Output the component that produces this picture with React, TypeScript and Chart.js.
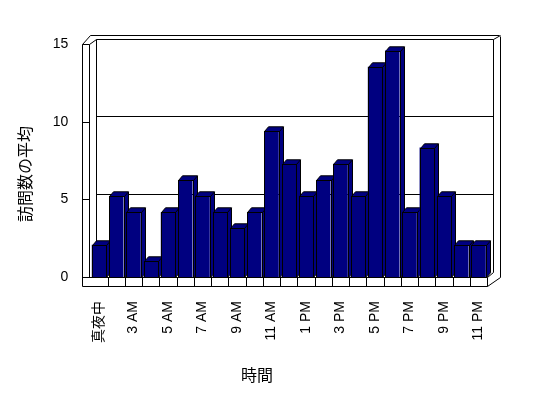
import React, { useEffect, useRef } from "react";
import { Chart, registerables } from "chart.js";

Chart.register(...registerables);

const categories = [
  "真夜中", "1 AM", "3 AM", "4 AM", "5 AM", "6 AM", "7 AM", "8 AM", "9 AM", "10 AM", "11 AM", "正午",
  "1 PM", "2 PM", "3 PM", "4 PM", "5 PM", "6 PM", "7 PM", "8 PM", "9 PM", "10 PM", "11 PM",
];
const visitAverages = [
  2.08, 5.21, 4.17, 1.04, 4.17, 6.25, 5.21, 4.17, 3.13, 4.17, 9.38, 7.29,
  5.21, 6.25, 7.29, 5.21, 13.54, 14.58, 4.17, 8.33, 5.21, 2.08, 2.08,
];
const yMin = 0;
const yMax = 15;
const yStep = 5;
const yTitle = "訪問数の平均";
const xTitle = "時間";

const FONT = '"Liberation Sans", "Noto Sans CJK JP", sans-serif';
const NAVY = "#000080";

const p = (v: number) => Math.round(v) + 0.5;

const threeD = {
  id: "threeD",
  beforeDatasetsDraw(chart: any) {
    const { ctx, chartArea } = chart;
    const ys = chart.scales.y;
    const L = chartArea.left;
    const R = chartArea.right;
    const B = chartArea.bottom;
    const T = ys.getPixelForValue(yMax);
    const bdx = 5.7;
    const bdy = -5.2;
    const n = categories.length;
    const cell = (R - L) / n;
    ctx.save();
    ctx.strokeStyle = "#000";
    ctx.lineWidth = 1;
    const line = (x1: number, y1: number, x2: number, y2: number) => {
      ctx.beginPath();
      ctx.moveTo(p(x1), p(y1));
      ctx.lineTo(p(x2), p(y2));
      ctx.stroke();
    };
    // back wall inner
    line(L + bdx, T + bdy, R + bdx, T + bdy);
    line(L + bdx, T + bdy, L + bdx, B + bdy);
    line(R + bdx, T + bdy, R + bdx, B + bdy);
    // gridlines
    for (let v = yMin + yStep; v < yMax; v += yStep) {
      const y = ys.getPixelForValue(v) + bdy;
      line(L + bdx, y, R + bdx, y);
    }
    // outer frame
    const oL = L - 8.7;
    const oR = R + 12.8;
    const oT = T - 9;
    line(oL + 8.3, oT, oR - 1, oT);
    line(oR, oT + 0.5, oR, B);
    line(R + bdx, T + bdy, oR, oT);
    // left wall
    line(oL, T, oL, B + 9);
    line(L - 1, T, L - 1, B);
    line(oL, T, L - 1, T);
    line(oL, T, oL + 8.3, oT);
    line(L - 1, T, L + bdx, T + bdy);
    for (let v = yMin + yStep; v < yMax; v += yStep) {
      const y = ys.getPixelForValue(v);
      line(oL, y, L - 1, y);
    }
    // floor slab
    line(oL, B, R, B);
    line(oL, B + 9, R, B + 9);
    line(R, B, R, B + 9);
    line(R, B + 9, oR, B);
    line(R, B, R + bdx, B + bdy);
    for (let i = 1; i < n; i++) {
      const x = L + i * cell;
      line(x, B, x, B + 9);
    }
    // bar extrusions
    const dx = 4;
    const dy = -4.7;
    const meta = chart.getDatasetMeta(0);
    ctx.fillStyle = NAVY;
    meta.data.forEach((el: any) => {
      const { x, y, base, width } = el.getProps(["x", "y", "base", "width"], true);
      const x0 = Math.round(x - width / 2) + 0.5;
      const x1 = Math.round(x + width / 2) + 0.5;
      const yt = Math.round(y) + 0.5;
      const yb = Math.round(base) + 0.5;
      ctx.beginPath();
      ctx.moveTo(x0, yt);
      ctx.lineTo(x0 + dx, yt + dy);
      ctx.lineTo(x1 + dx, yt + dy);
      ctx.lineTo(x1 + dx, yb + dy);
      ctx.lineTo(x1, yb);
      ctx.lineTo(x1, yt);
      ctx.closePath();
      ctx.fill();
      ctx.stroke();
      ctx.beginPath();
      ctx.moveTo(x1, yt);
      ctx.lineTo(x1 + dx, yt + dy);
      ctx.stroke();
    });
    ctx.restore();
  },
  afterDatasetsDraw(chart: any) {
    const { ctx } = chart;
    const meta = chart.getDatasetMeta(0);
    ctx.save();
    ctx.strokeStyle = "#000";
    ctx.lineWidth = 1;
    meta.data.forEach((el: any) => {
      const { x, y, base, width } = el.getProps(["x", "y", "base", "width"], true);
      const x0 = Math.round(x - width / 2) + 0.5;
      const x1 = Math.round(x + width / 2) + 0.5;
      const yt = Math.round(y) + 0.5;
      const yb = Math.round(base) + 0.5;
      ctx.strokeRect(x0, yt, x1 - x0, yb - yt);
    });
    ctx.restore();
  },
  afterDraw(chart: any) {
    const { ctx } = chart;
    ctx.save();
    ctx.fillStyle = "#000";
    ctx.font = '16px "Noto Sans CJK JP", sans-serif';
    ctx.textAlign = "center";
    ctx.textBaseline = "middle";
    ctx.fillText(xTitle, 257, 375);
    ctx.translate(25, 174);
    ctx.rotate(-Math.PI / 2);
    ctx.fillText(yTitle, 0, 0);
    ctx.restore();
  },
};

export default function App() {
  const ref = useRef<HTMLCanvasElement | null>(null);
  useEffect(() => {
    if (!ref.current) return;
    const chart = new Chart(ref.current, {
      type: "bar",
      data: {
        labels: categories,
        datasets: [
          {
            data: visitAverages,
            backgroundColor: NAVY,
            borderWidth: 0,
            categoryPercentage: 1,
            barPercentage: 0.84,
          },
        ],
      },
      options: {
        responsive: false,
        animation: false,
        layout: { padding: { left: 0, top: 44, right: 60.8, bottom: 0 } },
        plugins: { legend: { display: false }, tooltip: { enabled: false } },
        scales: {
          x: {
            grid: { display: false, drawTicks: false },
            border: { display: false },
            ticks: {
              autoSkip: false,
              maxRotation: 90,
              minRotation: 90,
              padding: 24,
              color: "#000",
              font: { family: FONT, size: 14 },
              callback: (_v: any, i: number) => (i % 2 === 0 ? categories[i] : ""),
            },
            afterFit: (s: any) => {
              s.height = 121;
            },
          },
          y: {
            min: yMin,
            max: yMax,
            grid: { display: false, drawTicks: false },
            border: { display: false },
            ticks: {
              stepSize: yStep,
              padding: 22,
              color: "#000",
              font: { family: FONT, size: 14 },
            },
            afterFit: (s: any) => {
              s.width = 90.4;
            },
          },
        },
      },
      plugins: [threeD],
    });
    return () => chart.destroy();
  }, []);
  return (
    <div style={{ position: "fixed", left: 0, top: 0, width: 548, height: 398, background: "#fff" }}>
      <canvas ref={ref} width={548} height={398} style={{ display: "block" }} />
    </div>
  );
}
